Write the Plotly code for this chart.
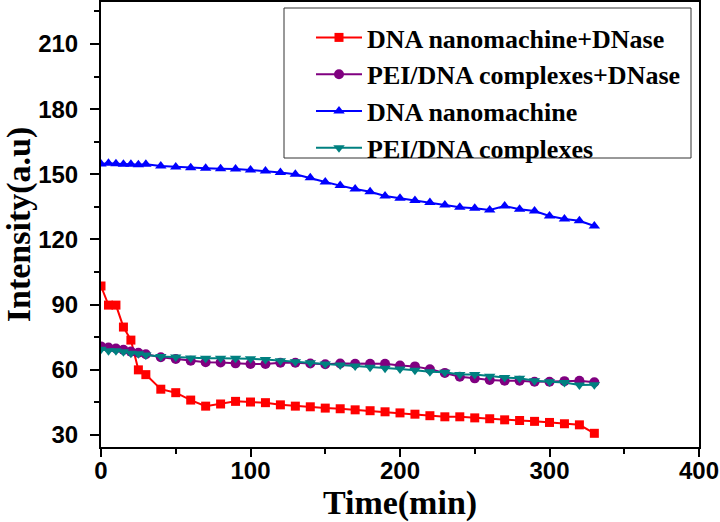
import plotly.graph_objects as go

time_min = [0, 5, 10, 15, 20, 25, 30, 40, 50, 60, 70, 80, 90, 100, 110, 120, 130, 140,
            150, 160, 170, 180, 190, 200, 210, 220, 230, 240, 250, 260, 270, 280, 290,
            300, 310, 320, 330]

nano_dnase = [98.6, 89.8, 89.8, 79.7, 73.7, 60.0, 57.8, 51.1, 49.5, 46.1, 43.3, 44.3, 45.5,
              45.2, 44.9, 43.9, 43.3, 43.0, 42.4, 42.1, 41.6, 41.2, 40.7, 40.2, 39.6, 38.9,
              38.4, 38.4, 37.9, 37.5, 37.0, 36.7, 36.3, 35.8, 35.2, 34.7, 30.8]

pei_dnase = [70.8, 70.3, 69.8, 69.2, 68.4, 67.9, 67.2, 65.8, 65.0, 64.2, 63.5, 63.4, 63.0,
             62.7, 62.7, 63.3, 63.3, 62.9, 62.6, 62.9, 62.8, 62.8, 62.8, 62.0, 61.6, 60.3,
             58.6, 56.8, 56.1, 55.3, 55.0, 55.0, 54.5, 54.5, 54.8, 55.0, 54.3]

nano = [154.7, 155.1, 154.9, 154.6, 154.6, 154.4, 154.6, 153.8, 153.4, 153.0, 152.8, 152.6,
        152.5, 152.0, 151.5, 150.8, 150.0, 148.4, 146.5, 144.8, 143.2, 142.0, 140.0, 139.0,
        137.9, 137.0, 135.9, 134.8, 134.4, 133.6, 135.4, 133.9, 133.1, 130.8, 129.4, 128.6,
        126.2]

pei = [69.5, 68.8, 68.8, 68.3, 67.6, 67.4, 66.8, 66.2, 65.9, 65.5, 65.4, 65.3, 65.3, 65.1,
       64.8, 64.2, 63.7, 63.3, 62.7, 62.2, 61.8, 61.2, 60.7, 60.4, 59.8, 59.1, 58.9, 57.9,
       57.9, 57.1, 56.5, 56.1, 55.0, 54.5, 54.2, 53.0, 53.2]

series = [
    ("DNA nanomachine+DNase", nano_dnase, "#FF0000", "square", 9),
    ("PEI/DNA complexes+DNase", pei_dnase, "#800080", "circle", 10),
    ("DNA nanomachine", nano, "#0000FF", "triangle-up", 10),
    ("PEI/DNA complexes", pei, "#008080", "triangle-down", 10),
]

x_ticks = [0, 100, 200, 300, 400]
y_ticks = [30, 60, 90, 120, 150, 180, 210]

# plot area in pixels: left 101, right 699, top 2, bottom 447
L, R, T, B = 101, 699, 2, 447
def px_x(p):
    return (p - L) / (R - L)
def px_y(p):
    return (B - p) / (B - T)

fig = go.Figure()
for name, vals, col, sym, sz in series:
    fig.add_trace(go.Scatter(
        x=time_min, y=vals, name=name, mode="lines+markers",
        line=dict(color=col, width=2),
        marker=dict(symbol=sym, size=sz, color=col, line=dict(width=0)),
    ))

tick_font = dict(family="Liberation Sans, Arial", size=24, color="black", weight="bold")
title_font = dict(family="Liberation Serif, Times New Roman", size=34, color="black", weight="bold")

fig.add_shape(type="rect", xref="paper", yref="paper",
              x0=px_x(284), x1=px_x(691), y0=px_y(158), y1=px_y(8),
              line=dict(color="#333333", width=1), fillcolor="white", layer="above")

fig.update_layout(
    width=720, height=522,
    margin=dict(l=L, r=720 - R, t=T, b=522 - B, autoexpand=False),
    paper_bgcolor="white", plot_bgcolor="white",
    showlegend=True,
    legend=dict(
        x=px_x(311), y=px_y(14), xanchor="left", yanchor="top",
        bgcolor="rgba(0,0,0,0)", borderwidth=0,
        font=dict(family="Liberation Serif, Times New Roman", size=26, color="black", weight="bold"),
        itemwidth=46, tracegroupgap=0,
    ),
    xaxis=dict(
        range=[0, 400], tickvals=x_ticks, ticktext=[str(v) for v in x_ticks],
        ticks="outside", ticklen=8, tickwidth=1.5, tickcolor="black",
        showline=True, linecolor="black", linewidth=2, mirror=True,
        showgrid=False, zeroline=False, tickfont=tick_font, automargin=False,
        ticklabelstandoff=-7,
        minor=dict(dtick=50, tick0=0, ticks="outside", ticklen=5, tickwidth=1.5, tickcolor="black", showgrid=False),
        title=dict(text="Time(min)", font=title_font, standoff=6),
    ),
    yaxis=dict(
        range=[24.5, 229.3], tickvals=y_ticks, ticktext=[str(v) for v in y_ticks],
        ticks="outside", ticklen=9, tickwidth=1.5, tickcolor="black",
        showline=True, linecolor="black", linewidth=2, mirror=True,
        showgrid=False, zeroline=False, tickfont=tick_font, automargin=False,
        ticklabelstandoff=7,
        minor=dict(dtick=15, tick0=0, ticks="outside", ticklen=5, tickwidth=1.5, tickcolor="black", showgrid=False),
        title=dict(text="Intensity(a.u)", font=title_font, standoff=17),
    ),
)

fig.write_html("out.html", config={"displayModeBar": False},
               post_script="document.body.style.margin='0';document.body.style.padding='0';")
